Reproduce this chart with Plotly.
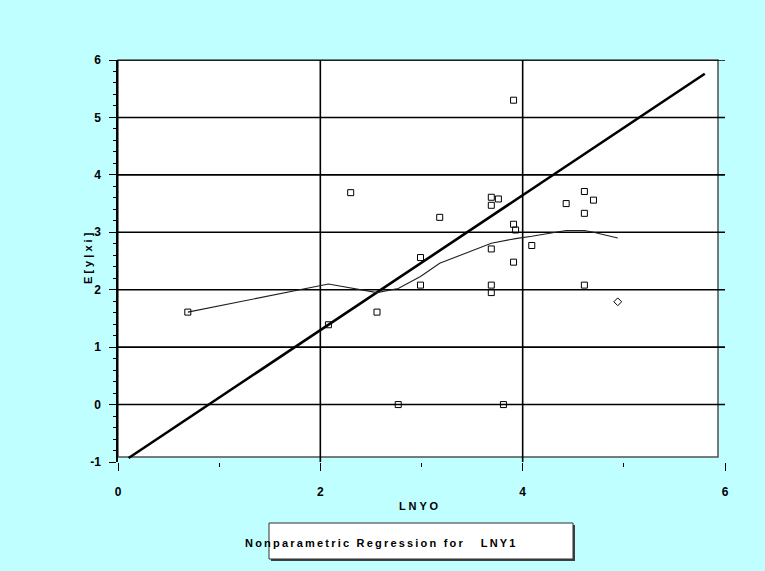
import plotly.graph_objects as go

# ---- data ----
pts_x = [0.69, 2.08, 2.30, 2.56, 2.77, 2.99, 2.99, 3.18, 3.69, 3.76, 3.69, 3.69, 3.69, 3.69,
         3.81, 3.91, 3.91, 3.93, 3.91, 4.09, 4.43, 4.61, 4.70, 4.61, 4.61]
pts_y = [1.61, 1.39, 3.69, 1.61, 0.00, 2.56, 2.08, 3.26, 3.61, 3.58, 3.47, 2.71, 2.08, 1.95,
         0.00, 5.30, 3.14, 3.04, 2.48, 2.77, 3.50, 3.71, 3.56, 3.33, 2.08]
diamond_x = [4.94]
diamond_y = [1.79]

np_x = [0.69, 2.08, 2.56, 2.77, 2.99, 3.18, 3.69, 3.81, 3.91, 3.93, 4.09, 4.43, 4.61, 4.70, 4.94]
np_y = [1.61, 2.10, 1.95, 2.02, 2.23, 2.46, 2.81, 2.85, 2.88, 2.89, 2.93, 3.03, 3.03, 3.00, 2.90]

fit_x = [0.105, 5.80]
fit_y = [-0.93, 5.76]

x_ticks = [0, 2, 4, 6]
y_ticks = [-1, 0, 1, 2, 3, 4, 5, 6]

x_title = "LNYO"
y_title = "E[y|xi]"
legend_text = "Nonparametric Regression for   LNY1"

# ---- layout constants ----
W, H = 765, 571
L, R, T, B = 118, 40, 60, 109
PW, PH = W - L - R, H - T - B
BG = "#C0FFFF"
FONT = "Liberation Sans, Arial, sans-serif"


def px_x(p):
    return (p - L) / PW


def px_y(p):
    return (H - B - p) / PH


def spaced(s, sp="\u2009"):
    return sp.join(s)


fig = go.Figure()

fig.add_trace(go.Scatter(x=fit_x, y=fit_y, mode="lines",
                         line=dict(color="black", width=2.6), showlegend=False))
fig.add_trace(go.Scatter(x=np_x, y=np_y, mode="lines",
                         line=dict(color="#202020", width=1.1), showlegend=False))
fig.add_trace(go.Scatter(x=pts_x, y=pts_y, mode="markers",
                         marker=dict(symbol="square-open", size=6, color="black",
                                     line=dict(width=1, color="black")),
                         showlegend=False))
fig.add_trace(go.Scatter(x=diamond_x, y=diamond_y, mode="markers",
                         marker=dict(symbol="diamond-open", size=6, color="black",
                                     line=dict(width=1, color="black")),
                         showlegend=False))

shapes = []
# white plot box (slightly smaller than axis range)
shapes.append(dict(type="rect", xref="paper", yref="paper",
                   x0=0, x1=px_x(718), y0=px_y(457), y1=1,
                   fillcolor="white", line=dict(color="#505050", width=1.5), layer="below"))
# grid lines
for yv in [0, 1, 2, 3, 4, 5]:
    shapes.append(dict(type="line", xref="x", yref="y", x0=0, x1=6, y0=yv, y1=yv,
                       line=dict(color="black", width=1.6), layer="below"))
for xv in [2, 4]:
    shapes.append(dict(type="line", xref="x", yref="y", x0=xv, x1=xv, y0=-1, y1=6,
                       line=dict(color="black", width=1.6), layer="below"))
shapes.append(dict(type="line", xref="x", yref="y", x0=0, x1=6, y0=6, y1=6,
                   line=dict(color="black", width=1.4), layer="below"))
# legend box with shadow
shapes.append(dict(type="rect", xref="paper", yref="paper",
                   x0=px_x(271), x1=px_x(575), y0=px_y(561), y1=px_y(525),
                   fillcolor="#404040", line=dict(width=0)))
shapes.append(dict(type="rect", xref="paper", yref="paper",
                   x0=px_x(269), x1=px_x(573), y0=px_y(559), y1=px_y(523),
                   fillcolor="white", line=dict(color="#303030", width=1)))

annotations = [
    dict(text=spaced(x_title, " "), xref="paper", yref="paper",
         x=px_x(419), y=px_y(506), showarrow=False, xanchor="center", yanchor="middle",
         font=dict(family=FONT, size=11, color="black", weight="bold")),
    dict(text=spaced(y_title, " "), xref="paper", yref="paper",
         x=px_x(88), y=px_y(258), showarrow=False, xanchor="center", yanchor="middle",
         textangle=-90,
         font=dict(family=FONT, size=11, color="black", weight="bold")),
    dict(text=spaced(legend_text), xref="paper", yref="paper",
         x=px_x(243), y=px_y(543), showarrow=False, xanchor="left", yanchor="middle",
         font=dict(family=FONT, size=11, color="black", weight="bold")),
]

fig.update_layout(
    width=W, height=H, autosize=False,
    margin=dict(l=L, r=R, t=T, b=B, pad=0),
    paper_bgcolor=BG, plot_bgcolor=BG,
    shapes=shapes, annotations=annotations,
    showlegend=False,
    font=dict(family=FONT, color="black"),
)

fig.update_xaxes(
    range=[0, 6], tickmode="array", tickvals=x_ticks, ticktext=[str(v) for v in x_ticks],
    showgrid=False, zeroline=False, showline=False,
    ticks="outside", ticklen=8, tickwidth=1.3, tickcolor="black",
    minor=dict(dtick=1, ticks="outside", ticklen=4, tickwidth=1, tickcolor="black", showgrid=False),
    tickfont=dict(family=FONT, size=12, color="black", weight="bold"),
    ticklabelstandoff=11,
)
fig.update_yaxes(
    range=[-1, 6], tickmode="array", tickvals=y_ticks, ticktext=[str(v) for v in y_ticks],
    showgrid=False, zeroline=False, showline=True, linecolor="black", linewidth=1.5,
    ticks="outside", ticklen=7, tickwidth=1.3, tickcolor="black",
    minor=dict(dtick=0.2, tick0=0, ticks="outside", ticklen=3.5, tickwidth=1, tickcolor="black",
               showgrid=False),
    tickfont=dict(family=FONT, size=12, color="black", weight="bold"),
    ticklabelstandoff=6,
)

fig.write_html("out.html",
               config={"displayModeBar": False},
               post_script="document.body.style.margin='0';document.body.style.padding='0';"
                           "document.body.style.overflow='hidden';")
